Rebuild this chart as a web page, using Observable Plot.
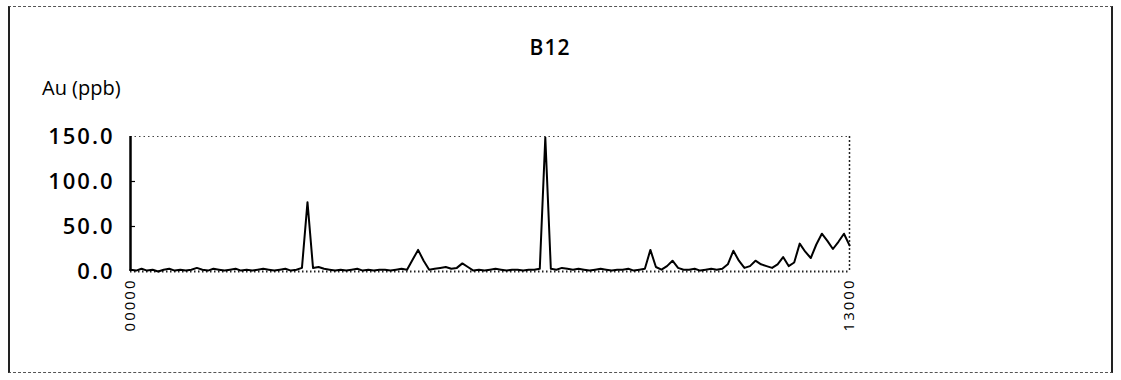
<!DOCTYPE html>
<html><head><meta charset="utf-8">
<script src="https://cdn.jsdelivr.net/npm/d3@7"></script>
<script src="https://cdn.jsdelivr.net/npm/@observablehq/plot@0.6"></script>
<style>
body{margin:0;background:#fff;}
#wrap{position:relative;width:1121px;height:380px;overflow:hidden;font-family:"Open Sans",sans-serif;color:#000;}
#frame{position:absolute;left:8px;top:6px;width:1105px;height:367px;border-top:1px dashed #555;border-bottom:1px dashed #555;border-left:2px solid #222;border-right:2px solid #222;box-sizing:border-box;}
#title{position:absolute;left:0;width:1100px;top:33px;text-align:center;font-size:21px;font-weight:600;letter-spacing:1px;}
#ylab{position:absolute;left:42px;top:74px;font-size:20px;}
#chart{position:absolute;left:0;top:0;}
#chart g[aria-label="y-axis tick label"] text{letter-spacing:2px;}
#chart g[aria-label="x-axis tick label"] text{letter-spacing:2px;}
</style></head>
<body>
<div id="wrap">
  <div id="frame"></div>
  <div id="title">B12</div>
  <div id="ylab">Au (ppb)</div>
  <div id="chart"></div>
</div>
<script>
const distance = [
  0,100,200,300,400,500,600,700,800,900,
  1000,1100,1200,1300,1400,1500,1600,1700,1800,1900,
  2000,2100,2200,2300,2400,2500,2600,2700,2800,2900,
  3000,3100,3200,3300,3400,3500,3600,3700,3800,3900,
  4000,4100,4200,4300,4400,4500,4600,4700,4800,4900,
  5000,5100,5200,5300,5400,5500,5600,5700,5800,5900,
  6000,6100,6200,6300,6400,6500,6600,6700,6800,6900,
  7000,7100,7200,7300,7400,7500,7600,7700,7800,7900,
  8000,8100,8200,8300,8400,8500,8600,8700,8800,8900,
  9000,9100,9200,9300,9400,9500,9600,9700,9800,9900,
  10000,10100,10200,10300,10400,10500,10600,10700,10800,10900,
  11000,11100,11200,11300,11400,11500,11600,11700,11800,11900,
  12000,12100,12200,12300,12400,12500,12600,12700,12800,12900,13000
];
const au = [
  2,1,3,1,2,0,2,3,1,2,
  1,2,4,2,1,3,2,1,2,3,
  1,2,1,2,3,2,1,2,3,1,
  2,4,77,4,5,3,2,1,2,1,
  2,3,1,2,1,2,2,1,2,3,
  2,13,24,12,2,3,4,5,3,4,
  9,5,1,2,1,2,3,2,1,2,
  2,1,2,2,3,149,3,2,4,3,
  2,3,2,1,2,3,2,1,2,2,
  3,1,2,3,24,5,2,6,12,4,
  2,2,3,1,2,3,2,3,8,23,
  12,4,6,12,8,6,4,8,16,6,
  10,31,22,15,30,42,34,25,33,42,29
];
const yTicks = [0, 50, 100, 150];
const innerTicks = [50, 100];
const xTicks = [0, 13000];

const data = distance.map((d, i) => ({distance: d, au: au[i]}));

const chart = Plot.plot({
  width: 1121,
  height: 380,
  marginLeft: 130,
  marginRight: 272,
  marginTop: 136,
  marginBottom: 109,
  style: {fontFamily: "Open Sans, sans-serif", background: "transparent", color: "#000"},
  x: {domain: [0, 13000]},
  y: {domain: [0, 150]},
  marks: [
    Plot.ruleY([150], {stroke: "#444", strokeDasharray: "1.5,3", strokeWidth: 1}),
    Plot.ruleX([13000], {stroke: "#222", strokeDasharray: "2,2", strokeWidth: 1.5}),
    Plot.ruleY([0], {stroke: "#222", strokeDasharray: "1.5,2.5", strokeWidth: 2}),
    Plot.ruleY(innerTicks, {x1: 0, x2: 90, stroke: "#000", strokeWidth: 1.2}),
    Plot.line(data, {x: "distance", y: "au", stroke: "#000", strokeWidth: 2}),
    Plot.ruleX([0], {stroke: "#000", strokeWidth: 2.5}),
    Plot.axisY({ticks: yTicks, tickFormat: d3.format(".1f"), tickSize: 0, tickPadding: 16, fontSize: 22, fontWeight: 600, label: null}),
    Plot.axisX({ticks: xTicks, tickFormat: d3.format("05d"), tickSize: 0, tickPadding: 7, tickRotate: -90, fontSize: 15, label: null})
  ]
});
document.getElementById("chart").appendChild(chart);
</script>
</body></html>
